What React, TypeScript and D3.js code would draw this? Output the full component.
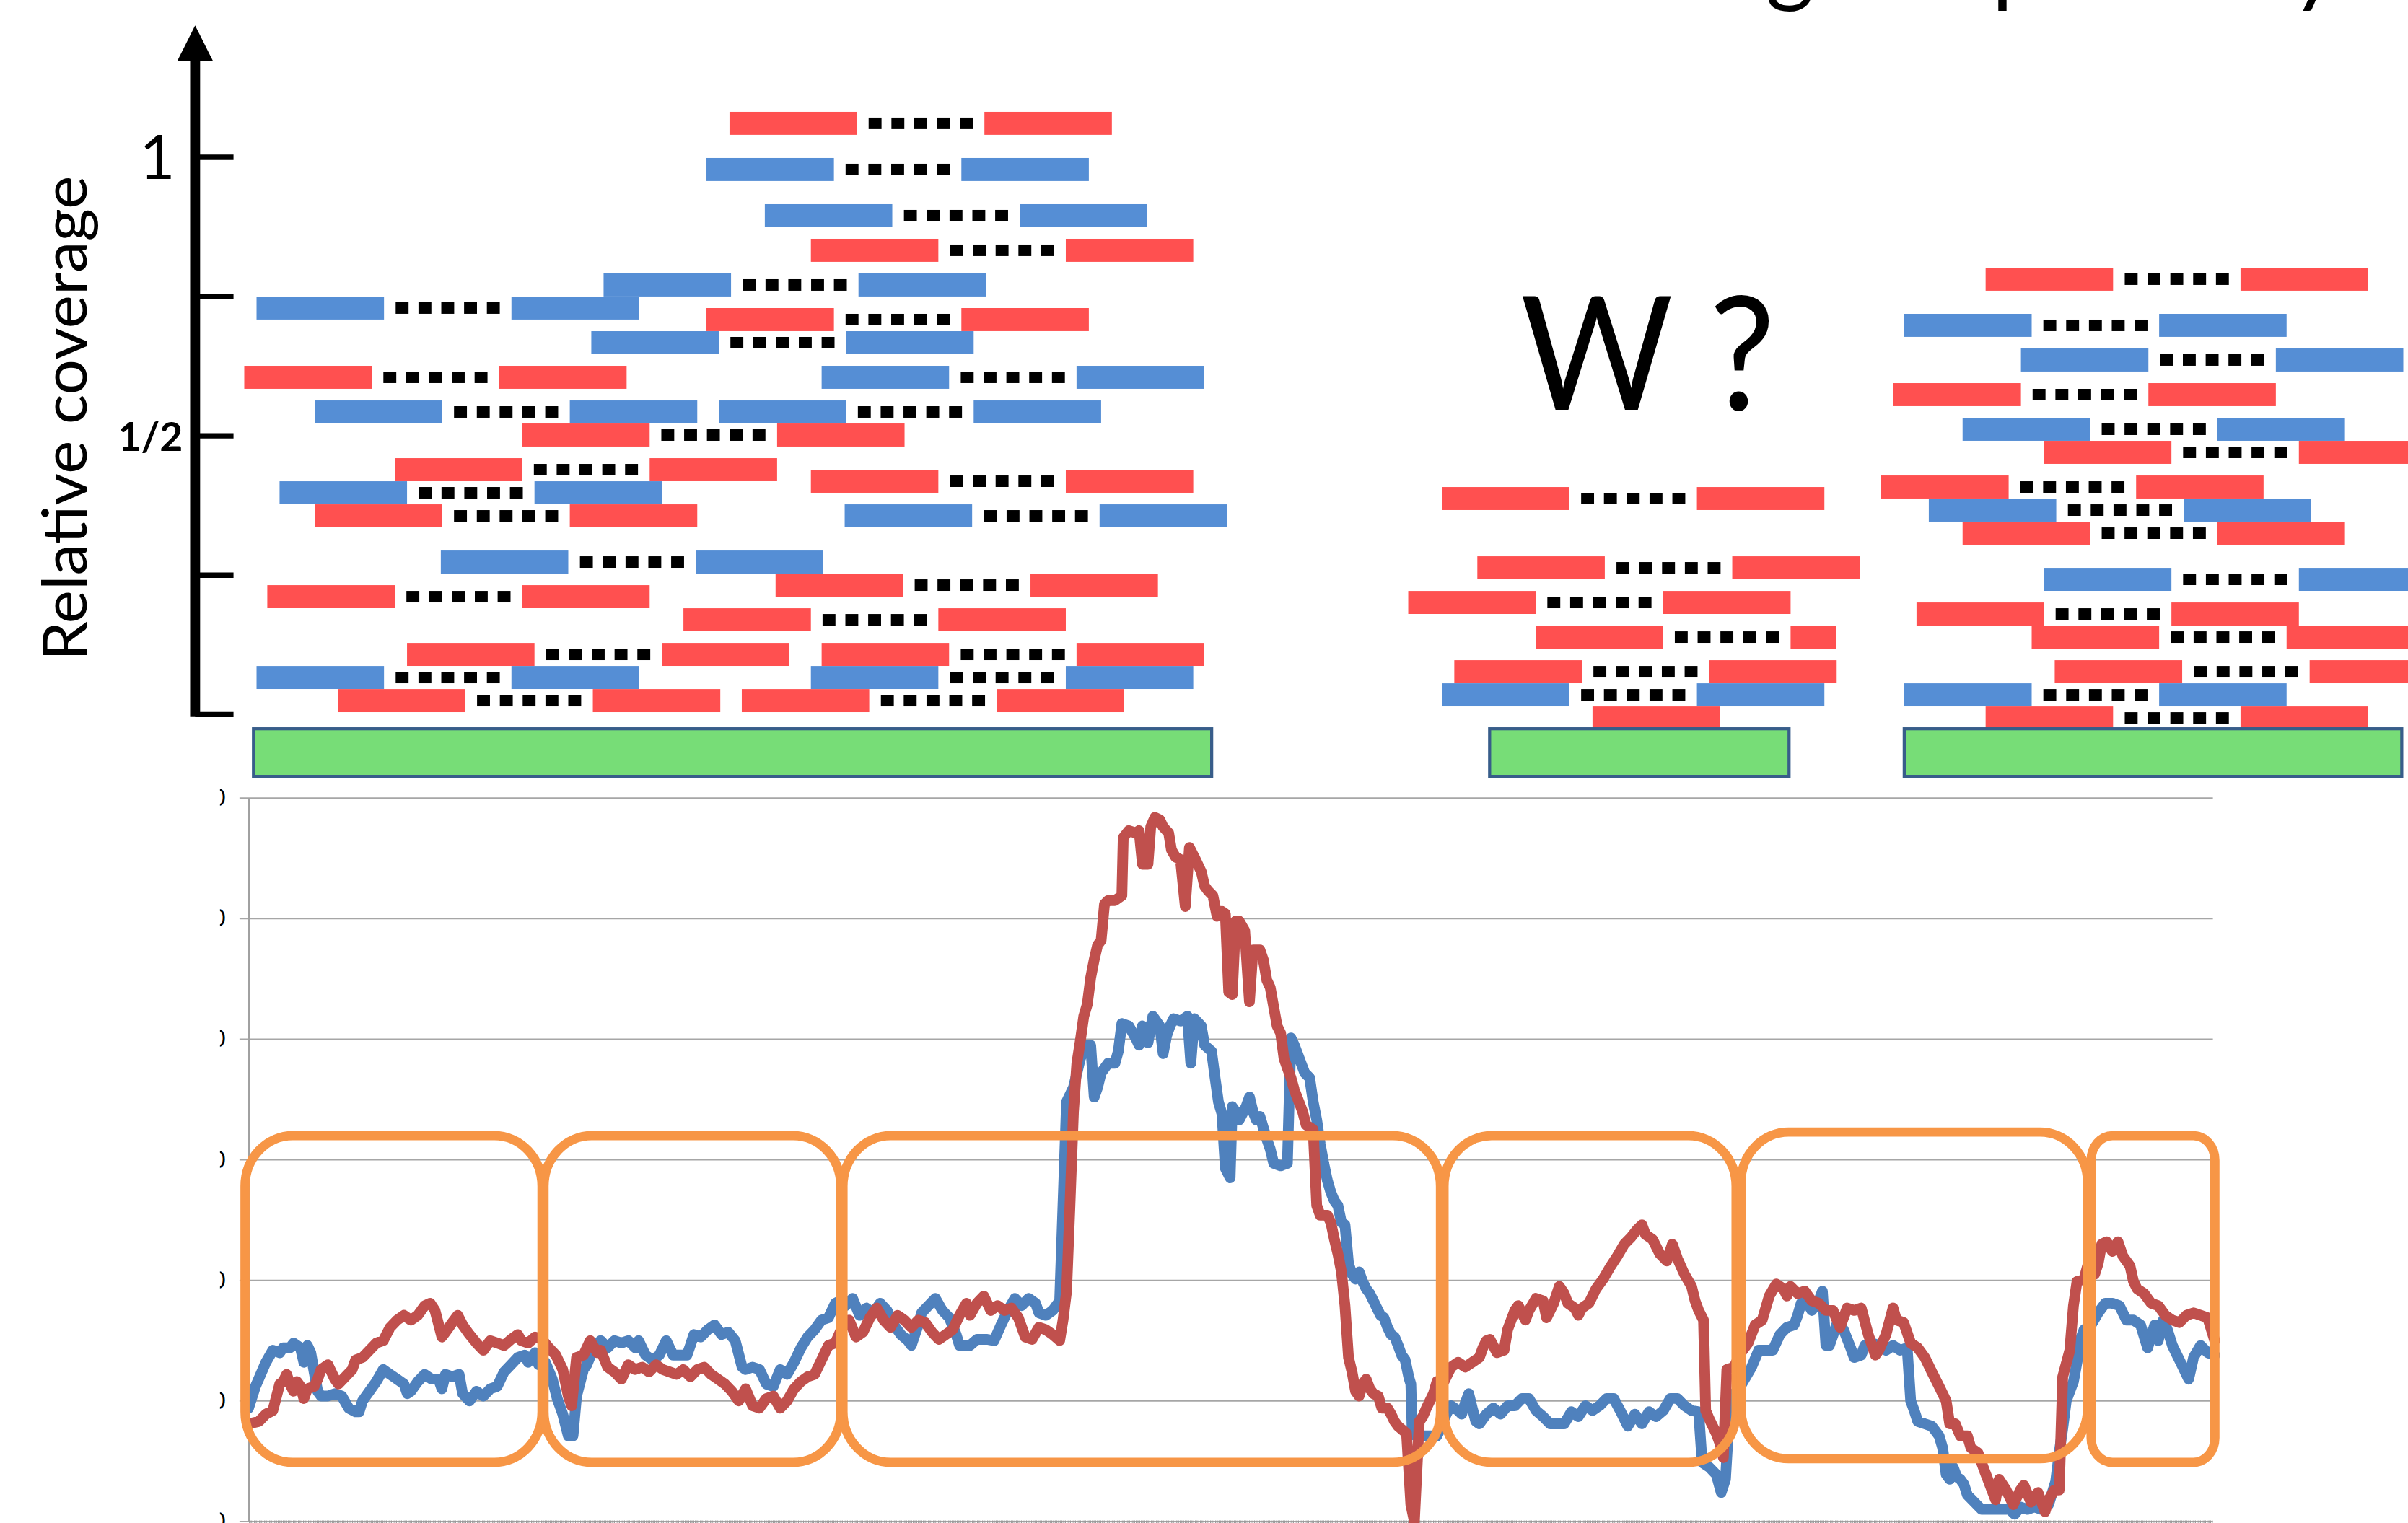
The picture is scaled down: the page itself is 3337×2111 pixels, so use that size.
import React from 'react';
import * as d3 from 'd3';

// ---------- DATA ----------
// Top panel: read pairs [start position, stack slot, strand colour, mate length]
const READ_LEN = 83;
const INSERT_GAP = 83;

const leftCluster: [number, number, string, number][] = [
  [315, 51.5, 'R', 83], [300, 47.5, 'B', 83], [338, 43.5, 'B', 83], [368, 40.5, 'R', 83],
  [233, 37.5, 'B', 83], [7, 35.5, 'B', 83], [300, 34.5, 'R', 83], [225, 32.5, 'B', 83],
  [-1, 29.5, 'R', 83], [375, 29.5, 'B', 83], [45, 26.5, 'B', 83], [308, 26.5, 'B', 83],
  [180, 24.5, 'R', 83], [97, 21.5, 'R', 83], [368, 20.5, 'R', 83], [22, 19.5, 'B', 83],
  [45, 17.5, 'R', 83], [390, 17.5, 'B', 83], [127, 13.5, 'B', 83], [345, 11.5, 'R', 83],
  [14, 10.5, 'R', 83], [285, 8.5, 'R', 83], [105, 5.5, 'R', 83], [375, 5.5, 'R', 83],
  [7, 3.5, 'B', 83], [368, 3.5, 'B', 83], [60, 1.5, 'R', 83], [323, 1.5, 'R', 83],
];

const middleCluster: [number, number, string, number][] = [
  [779, 19, 'R', 83], [802, 13, 'R', 83], [757, 10, 'R', 83], [840, 7, 'R', 29.5],
  [787, 4, 'R', 83], [779, 2, 'B', 83], [877, 0, 'R', 0],
];

const rightCluster: [number, number, string, number][] = [
  [1133, 38, 'R', 83], [1080, 34, 'B', 83], [1156, 31, 'B', 83], [1073, 28, 'R', 83],
  [1118, 25, 'B', 83], [1171, 23, 'R', 83], [1065, 20, 'R', 83], [1096, 18, 'B', 83],
  [1118, 16, 'R', 83], [1171, 12, 'B', 83], [1088, 9, 'R', 83], [1163, 7, 'R', 83],
  [1178, 4, 'R', 83], [1080, 2, 'B', 83], [1133, 0, 'R', 83],
];

const contigs: [number, number][] = [[5, 629], [810, 1005], [1080, 1404]];

const topTicks = [0, 0.25, 0.5, 0.75, 1];
const topTickLabels: [number, string][] = [[1, '1'], [0.5, '1/2']];

// Bottom panel: coverage profiles [position, coverage]
const blueSeries: [number, number][] = [
  [1.3,9.4],[5.8,11.2],[12.6,13.2],[17.1,14.2],[21.6,14.0],[23.8,14.4],[28.3,14.4],[30.6,14.8],[35.1,14.4],[37.3,13.2],[39.6,14.6],[41.8,14.0],[44.0,12.4],[46.3,10.8],[48.5,10.4],[53.0,10.4],[57.5,10.6],[62.0,10.4],[66.5,9.4],[71.0,9.1],[73.3,9.1],[75.5,10.0],[80.0,10.8],[84.5,11.6],[89.0,12.6],[93.5,12.2],[98.0,11.8],[102.5,11.4],[104.7,10.6],[107.0,10.8],[111.5,11.6],[116.0,12.2],[120.5,11.8],[125.0,11.8],[127.2,11.0],[129.5,12.2],[134.0,12.0],[138.4,12.2],[140.7,10.6],[145.2,10.0],[149.7,10.8],[154.2,10.4],[158.7,11.0],[163.2,11.2],[167.7,12.4],[172.2,13.0],[176.6,13.6],[181.1,13.8],[183.4,13.2],[187.9,14.0],[190.1,13.0],[194.6,13.2],[199.1,11.8],[202.3,10.2],[205.9,8.9],[209.5,7.1],[212.6,7.1],[214.9,10.4],[219.4,12.6],[221.6,13.0],[226.1,14.4],[230.6,15.0],[235.1,14.4],[239.6,15.0],[244.1,14.8],[248.6,15.0],[253.1,14.4],[255.3,15.0],[259.8,13.8],[264.3,13.4],[268.8,13.8],[273.3,15.0],[275.5,14.4],[277.8,13.8],[282.3,13.8],[286.8,13.8],[289.0,14.6],[291.3,15.5],[295.8,15.3],[300.3,15.9],[304.8,16.3],[309.3,15.5],[313.7,15.7],[318.2,15.0],[322.7,12.8],[325.0,12.6],[329.5,12.8],[334.0,12.6],[338.5,11.4],[343.0,11.2],[347.5,12.6],[352.0,12.2],[356.5,13.2],[361.0,14.4],[365.4,15.3],[369.9,15.9],[374.4,16.7],[378.9,16.9],[383.4,18.1],[386.6,18.3],[390.2,17.9],[394.7,18.5],[399.2,17.1],[403.6,17.7],[408.1,17.3],[412.6,18.1],[417.1,17.5],[421.6,16.3],[426.1,15.5],[430.6,15.0],[432.9,14.6],[437.4,16.3],[439.6,17.3],[444.1,17.9],[448.6,18.5],[453.1,17.5],[457.6,16.9],[462.1,15.5],[464.3,14.6],[471.1,14.6],[475.6,15.1],[482.3,15.1],[486.8,15.0],[491.3,16.3],[495.8,17.5],[500.3,18.5],[504.8,17.9],[509.3,18.5],[513.8,18.1],[516.0,17.3],[520.5,17.1],[525.0,17.5],[529.5,18.3],[534.0,34.8],[538.5,36.0],[543.0,38.4],[546.6,39.5],[549.7,39.5],[552.0,35.2],[554.2,36.0],[556.5,37.2],[561.0,38.0],[565.5,38.0],[567.7,39.0],[570.0,41.3],[574.5,41.1],[579.0,40.1],[581.2,39.5],[583.4,41.1],[587.0,39.7],[590.2,41.9],[594.7,41.1],[596.9,38.8],[599.2,40.3],[601.4,41.1],[603.7,41.7],[608.2,41.5],[612.7,41.9],[614.9,38.0],[617.2,41.7],[621.7,41.1],[623.9,39.5],[628.4,39.0],[630.7,36.8],[632.9,34.8],[635.2,33.8],[637.4,29.3],[640.5,28.5],[641.9,34.4],[644.1,34.0],[646.4,33.3],[650.9,34.4],[653.1,35.2],[655.4,34.0],[657.6,33.3],[659.9,33.6],[664.4,31.7],[666.6,30.9],[668.9,29.7],[673.4,29.5],[677.8,29.7],[680.1,40.1],[682.3,39.5],
  [689.1,37.2],[692.3,36.8],[694.6,34.8],[696.9,33.3],[699.2,31.3],[701.5,29.7],[703.8,28.3],[706.1,27.3],[708.4,26.6],[710.7,26.2],[713.0,24.8],[715.3,24.6],[717.6,21.4],[719.9,20.5],[722.2,20.1],[724.5,20.7],[726.8,19.9],[729.1,19.3],[731.5,18.9],[733.8,18.3],[736.1,17.7],[738.4,17.1],[740.7,16.9],[743.0,16.1],[745.3,15.5],[747.6,15.3],[749.9,14.6],[752.2,13.8],[754.5,13.4],[756.8,12.0],[758.2,11.4],[759.1,7.3],[761.4,7.1],[770.6,7.1],[775.2,7.1],[777.5,7.7],[779.8,8.5],[782.1,9.1],[784.4,9.6],[789.0,9.2],[791.3,8.9],[793.6,9.8],[795.9,10.6],[798.2,9.4],[800.5,8.3],[802.8,8.1],[807.4,8.9],[812.0,9.4],[816.6,8.9],[821.2,9.6],[825.9,9.6],[830.5,10.2],[835.1,10.2],[839.7,9.2],[844.3,8.7],[848.9,8.1],[858.1,8.1],[862.7,9.1],[867.3,8.7],[871.9,9.6],[876.5,9.2],[881.1,9.6],[885.7,10.2],[890.3,10.2],[894.9,9.1],[899.5,7.9],[904.1,8.9],[908.7,8.1],[913.3,9.1],[917.9,8.7],[922.6,9.2],[927.2,10.2],[931.8,10.2],[936.4,9.6],[941.0,9.2],[945.6,9.1],[947.9,4.9],[952.5,4.5],[957.1,3.9],[960.3,2.4],[963.1,3.5],[966.3,10.4],[970.9,10.8],[975.5,11.8],[980.1,12.8],[984.7,14.2],[993.9,14.2],[998.5,15.5],[1003.1,16.1],[1007.8,16.3],[1010.1,17.1],[1012.4,18.1],[1014.7,18.5],[1019.3,17.5],[1023.9,18.3],[1026.2,19.1],[1028.5,14.6],[1030.8,14.6],[1035.4,16.3],[1040.0,15.9],[1044.6,14.4],[1046.9,13.6],[1051.5,13.8],[1053.8,14.6],[1058.4,14.8],[1063.0,14.6],[1067.6,14.2],[1072.2,14.6],[1076.8,14.2],[1081.4,14.4],[1083.7,10.0],[1086.0,9.2],[1088.3,8.3],[1092.9,8.1],[1097.5,7.9],[1102.2,7.1],[1104.5,6.1],[1106.8,3.9],[1109.1,3.5],[1111.4,4.5],[1113.7,3.7],[1116.0,3.5],[1118.3,3.1],[1120.6,2.2],[1125.2,1.6],[1129.8,1.0],[1148.2,1.0],[1151.4,0.6],[1155.1,1.2],[1159.7,1.0],[1164.3,1.2],[1168.9,1.0],[1173.5,1.4],[1178.1,3.3],[1180.4,5.7],[1182.7,7.7],[1185.0,10.0],[1189.7,11.6],[1192.0,13.2],[1194.3,15.1],[1196.6,15.9],[1201.2,16.3],[1205.8,17.3],[1210.4,18.1],[1215.0,18.1],[1219.6,17.9],[1224.2,16.7],[1228.8,16.7],[1233.4,16.3],[1238.0,14.4],[1242.6,16.3],[1244.9,15.0],[1248.1,16.7],[1250.9,15.9],[1254.1,14.6],[1256.4,14.0],[1261.0,12.8],[1264.7,11.8],[1267.9,13.6],[1272.5,14.6],[1277.1,14.0],[1281.7,13.8],
];

const redSeries: [number, number][] = [
  [1.3,8.1],[8.1,8.3],[12.6,8.9],[17.1,9.2],[21.6,11.4],[23.8,11.6],[26.1,12.2],[28.3,11.4],[30.6,10.8],[32.8,11.6],[35.1,11.2],[37.3,10.2],[39.6,11.0],[44.0,11.2],[46.3,11.8],[48.5,12.6],[53.0,13.0],[57.5,11.8],[59.8,11.4],[64.3,12.0],[68.8,12.6],[71.0,13.4],[75.5,13.6],[80.0,14.2],[84.5,14.8],[89.0,15.0],[93.5,16.1],[98.0,16.7],[102.5,17.1],[107.0,16.7],[111.5,17.1],[116.0,17.9],[119.6,18.1],[122.7,17.5],[127.2,15.3],[129.5,15.7],[134.0,16.5],[137.5,17.1],[140.7,16.3],[145.2,15.5],[149.7,14.8],[154.2,14.2],[158.7,15.0],[163.2,14.8],[167.7,14.6],[172.2,15.1],[176.6,15.5],[178.9,15.0],[183.4,14.8],[187.9,15.3],[192.4,15.1],[196.9,14.4],[201.4,13.8],[205.9,12.6],[209.5,10.4],[211.7,9.6],[214.9,13.6],[219.4,13.8],[223.8,15.0],[228.3,14.0],[230.6,14.2],[235.1,12.8],[239.6,12.4],[244.1,11.8],[248.6,13.0],[253.1,12.6],[257.6,12.8],[262.1,12.4],[266.6,13.0],[271.0,12.6],[275.5,12.4],[280.0,12.2],[284.5,12.6],[289.0,12.0],[293.5,12.6],[298.0,12.8],[302.5,12.2],[307.0,11.8],[311.5,11.4],[316.0,10.8],[320.5,10.0],[325.0,11.0],[329.5,9.6],[334.0,9.4],[338.5,10.2],[343.0,10.4],[347.5,9.4],[352.0,10.0],[356.5,11.0],[361.0,11.6],[365.4,12.0],[369.9,12.2],[374.4,13.4],[378.9,14.6],[383.4,14.8],[387.9,16.1],[392.4,16.7],[396.9,15.3],[401.4,15.7],[405.9,16.9],[410.4,17.7],[414.9,16.7],[419.4,16.1],[423.9,17.1],[428.4,16.7],[432.9,16.1],[437.4,16.7],[441.9,16.5],[446.4,15.7],[450.8,15.1],[455.3,15.5],[459.8,15.9],[464.3,17.1],[468.8,18.1],[471.1,17.1],[475.6,18.1],[480.1,18.7],[484.6,17.5],[489.1,17.9],[493.6,17.5],[498.1,17.7],[502.6,16.9],[507.1,15.3],[511.5,15.1],[516.0,16.1],[520.5,15.9],[525.0,15.5],[529.5,15.0],[531.7,16.7],[534.0,19.1],[536.2,26.2],[538.5,34.0],[540.7,38.0],[543.0,39.9],[545.2,41.9],[547.5,42.9],[549.7,45.1],[552.0,46.6],[554.2,47.8],[556.5,48.2],[558.7,51.2],[561.0,51.5],[565.5,51.5],[570.0,51.9],[570.9,56.7],[574.5,57.3],[579.0,57.1],[581.2,57.3],[583.4,54.5],[587.0,54.5],[588.8,57.6],[591.5,58.4],[594.7,58.2],[596.9,57.6],[600.5,57.1],[602.3,55.7],[605.0,55.1],[608.2,54.9],[611.3,51.0],[614.0,55.9],[617.2,55.1],[621.7,53.9],[623.9,52.7],[626.2,52.3],[629.3,51.9],[632.0,50.2],[635.2,50.6],[637.4,50.4],[639.6,43.9],[641.9,43.7],[644.1,49.8],[646.4,49.8],[650.0,49.0],[653.1,43.1],[655.4,47.4],[659.9,47.4],[662.1,46.6],[664.4,44.9],[666.6,44.3],[671.1,41.1],[673.4,40.5],[675.6,38.4],[677.8,37.6],[680.1,36.8],[682.3,35.8],
  [687.7,34.0],[690.0,32.9],[694.6,32.5],[696.9,26.2],[699.2,25.4],[703.8,25.4],[706.1,24.8],[708.4,23.4],[710.7,22.2],[713.0,20.7],[715.3,17.9],[717.6,13.6],[719.9,12.4],[722.2,10.8],[724.5,10.4],[726.8,11.4],[729.1,11.8],[731.5,11.0],[733.8,10.6],[737.0,10.4],[739.3,9.4],[743.0,9.4],[745.3,8.9],[747.6,8.3],[749.9,7.9],[753.6,7.5],[755.4,7.3],[758.2,1.4],[760.5,0],[763.7,8.3],[766.0,8.7],[768.3,9.4],[770.6,10.0],[772.9,10.6],[775.2,11.6],[779.8,11.6],[782.1,12.2],[784.4,12.8],[789.0,13.2],[793.6,12.8],[798.2,13.2],[802.8,13.6],[805.1,14.4],[807.4,15.0],[809.7,15.1],[814.3,14.0],[818.9,14.2],[821.2,15.9],[825.9,17.5],[828.2,17.9],[832.8,16.7],[835.1,17.5],[839.7,18.5],[844.3,18.3],[846.6,16.9],[851.2,18.1],[854.9,19.5],[858.1,18.9],[860.4,18.1],[865.0,17.7],[867.3,17.1],[869.6,17.7],[874.2,18.1],[878.8,19.3],[883.4,20.1],[888.0,21.1],[892.6,22.0],[897.2,23.0],[901.8,23.6],[905.5,24.2],[908.7,24.6],[911.0,23.8],[915.6,23.4],[920.3,22.2],[924.9,21.6],[928.5,23.0],[931.8,21.8],[936.4,20.5],[941.0,19.5],[943.3,18.3],[945.6,17.5],[948.8,16.7],[950.2,9.2],[952.5,8.5],[957.1,7.3],[959.4,6.5],[961.7,5.3],[964.0,12.6],[968.6,12.8],[973.2,14.0],[977.8,14.8],[982.4,16.3],[987.0,16.7],[991.6,18.7],[996.2,19.7],[1000.8,19.3],[1003.1,18.7],[1005.4,19.5],[1010.1,18.9],[1014.7,19.1],[1019.3,18.3],[1023.9,18.1],[1028.5,17.5],[1033.1,17.5],[1037.7,16.1],[1042.3,17.7],[1046.9,17.5],[1051.5,17.7],[1056.1,15.5],[1060.7,13.8],[1063.0,14.2],[1067.6,15.5],[1072.2,17.7],[1074.5,16.7],[1079.1,16.5],[1083.7,14.8],[1088.3,14.4],[1092.9,13.6],[1097.5,12.4],[1102.2,11.2],[1106.8,10.0],[1109.1,8.1],[1112.7,8.1],[1116.0,7.1],[1120.6,7.1],[1122.9,6.1],[1127.5,5.7],[1132.1,4.1],[1139.0,1.8],[1141.3,3.5],[1145.9,2.6],[1150.5,1.4],[1155.1,2.6],[1157.4,3.0],[1162.0,1.6],[1166.6,2.4],[1171.2,0.8],[1173.5,1.8],[1177.2,2.6],[1180.4,2.6],[1182.7,12.0],[1187.3,14.2],[1189.7,17.9],[1192.0,19.9],[1196.6,20.1],[1198.9,21.2],[1203.5,20.5],[1205.8,21.4],[1208.1,23.0],[1211.3,23.2],[1215.0,22.4],[1218.7,23.2],[1221.9,22.0],[1226.5,21.2],[1228.8,19.9],[1231.1,19.3],[1235.7,18.9],[1240.3,18.1],[1244.9,17.9],[1249.5,17.1],[1254.1,16.7],[1258.7,16.5],[1263.3,17.1],[1267.9,17.3],[1272.5,17.1],[1277.1,16.9],[1281.7,15.0],
];

// Highlighted regions [start, end, low coverage, high coverage]
const regions: [number, number, number, number][] = [
  [-1, 192.4, 4.9, 32.0], [193.7, 387, 4.9, 32.0], [388.4, 777.5, 4.9, 32.0],
  [779.8, 970, 4.9, 32.0], [973.2, 1198.9, 5.2, 32.3], [1201.2, 1281.8, 4.9, 32.0],
];

const yTicks = [0, 10, 20, 30, 40, 50, 60];

const FONT = 'Lato, "Open Sans", sans-serif';
const READ_RED = '#FF5050';
const READ_BLUE = '#558ED5';

export default function App() {
  // top panel scales
  const xTop = d3.scaleLinear().domain([0, 1408]).range([160, 1568]);
  const slotY = d3.scaleLinear().domain([0, 1]).range([460.1, 452.58]);
  const covY = d3.scaleLinear().domain([0, 1]).range([465.4, 102.4]);

  // bottom panel scales
  const x = d3.scaleLinear().domain([0, 1284]).range([160.5, 1444.5]);
  const y = d3.scaleLinear().domain([0, 60]).range([991, 519.8]);
  const line = d3.line<[number, number]>().x(d => x(d[0])).y(d => y(d[1]));

  const allReads = [...leftCluster, ...middleCluster, ...rightCluster];
  const barH = 15;

  const renderRead = (r: [number, number, string, number], i: number) => {
    const [start, slot, strand, mate] = r;
    const col = strand === 'R' ? READ_RED : READ_BLUE;
    const top = slotY(slot);
    const x0 = xTop(start);
    const x1 = xTop(start + READ_LEN);
    const x2 = xTop(start + READ_LEN + INSERT_GAP);
    const items: JSX.Element[] = [
      <rect key="a" x={x0} y={top} width={x1 - x0} height={barH} fill={col} />,
    ];
    if (mate > 0) {
      const pitch = (x2 - x1 - 7.6 * 2 - 8.4) / 4;
      for (let k = 0; k < 5; k++) {
        items.push(
          <rect key={'d' + k} x={x1 + 7.6 + k * pitch} y={top + 3.75} width={8.4} height={7.5} fill="#000" />
        );
      }
      items.push(<rect key="b" x={x2} y={top} width={xTop(start + READ_LEN + INSERT_GAP + mate) - x2} height={barH} fill={col} />);
    }
    return <g key={i}>{items}</g>;
  };

  return (
    <svg
      width={3337}
      height={2111}
      viewBox="0 0 1568 992"
      style={{ position: 'absolute', left: 0, top: 0, display: 'block', background: '#fff' }}
    >
      <defs>
        <clipPath id="tickClip">
          <rect x={143.2} y={500} width={10} height={500} />
        </clipPath>
      </defs>
      <rect x={0} y={0} width={1568} height={992} fill="#fff" />

      {/* partially visible title glyphs at top */}
      <g fontFamily={FONT} fontSize={60} fill="#000">
        <text x={1150} y={-3.5}>g</text>
        <text x={1297} y={-3.5}>p</text>
        <text x={1492} y={-3.5}>y</text>
      </g>

      {/* top axis */}
      <line x1={127} x2={127} y1={38} y2={467} stroke="#000" strokeWidth={6.5} />
      <path d="M127,16.6 L138.5,39.5 L115.5,39.5 Z" fill="#000" />
      {topTicks.map(t => (
        <line key={t} x1={127} x2={152} y1={covY(t)} y2={covY(t)} stroke="#000" strokeWidth={3.5} />
      ))}
      <text x={114} y={covY(1) + 14} textAnchor="end" fontFamily={FONT} fontSize={40} fill="#000">
        {topTickLabels[0][1]}
      </text>
      <text x={119} y={covY(0.5) + 10} textAnchor="end" fontFamily={FONT} fontSize={26} fontWeight={700} fill="#000">
        {topTickLabels[1][1]}
      </text>
      <text
        transform="translate(56.5,272.5) rotate(-90)"
        textAnchor="middle"
        fontFamily={FONT}
        fontSize={40}
        textLength={316}
        lengthAdjust="spacingAndGlyphs"
        fill="#000"
      >
        Relative coverage
      </text>

      {/* reads */}
      {allReads.map(renderRead)}

      {/* contigs */}
      {contigs.map((c, i) => (
        <rect key={i} x={xTop(c[0])} y={474.7} width={xTop(c[1]) - xTop(c[0])} height={31}
          fill="#77DD77" stroke="#385D8A" strokeWidth={2} />
      ))}

      <text x={990} y={267} fontFamily={FONT} fontSize={103} textLength={166} lengthAdjust="spacingAndGlyphs" fill="#000">
        W ?
      </text>

      {/* bottom chart gridlines */}
      {yTicks.map(t => (
        <line key={t} x1={155.9} x2={1441} y1={y(t)} y2={y(t)} stroke="#A6A6A6" strokeWidth={0.9} />
      ))}
      <line x1={162.1} x2={162.1} y1={y(60)} y2={y(0)} stroke="#A0A0A0" strokeWidth={1} />
      <line x1={162.1} x2={1441} y1={y(0) + 0.2} y2={y(0) + 0.2} stroke="#9A9A9A" strokeWidth={1.6} strokeDasharray="0.6 0.5" />
      <g clipPath="url(#tickClip)">
        {yTicks.map(t => (
          <text key={t} x={146.8} y={y(t) + 5.2} textAnchor="end" fontFamily={FONT} fontSize={15} fill="#000">
            {t}
          </text>
        ))}
      </g>

      {/* coverage lines */}
      <path d={line(blueSeries) || ''} fill="none" stroke="#4F81BD" strokeWidth={7} strokeLinejoin="round" strokeLinecap="round" />
      <path d={line(redSeries) || ''} fill="none" stroke="#C0504D" strokeWidth={7} strokeLinejoin="round" strokeLinecap="round" />

      {/* regions */}
      {regions.map((r, i) => {
        const small = r[1] - r[0] < 100;
        return (
          <rect key={i} x={x(r[0])} y={y(r[3])} width={x(r[1]) - x(r[0])} height={y(r[2]) - y(r[3])}
            rx={small ? 14 : 31} ry={small ? 16 : 33}
            fill="none" stroke="#F79646" strokeWidth={6} />
        );
      })}
    </svg>
  );
}
